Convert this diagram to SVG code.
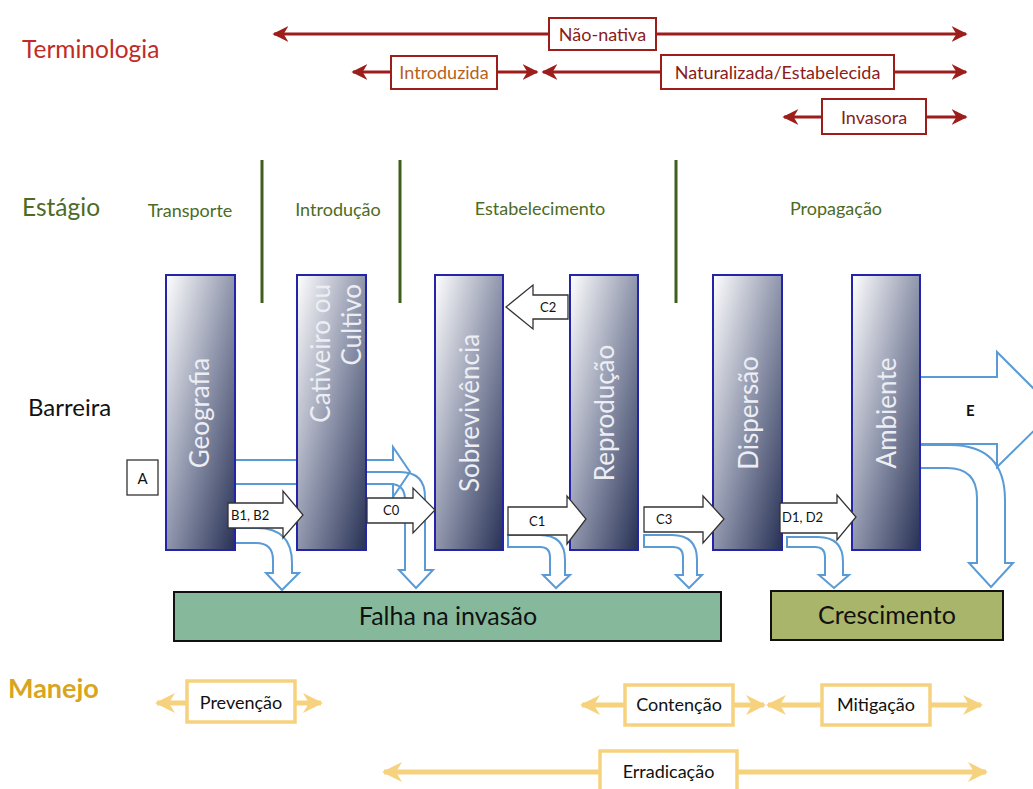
<svg xmlns="http://www.w3.org/2000/svg" width="1033" height="789" viewBox="0 0 1033 789">
<style>
text{font-family:Lato,"Open Sans","Liberation Sans",sans-serif}
.hdr{font-size:24.5px}
.red{fill:#bf2b26}
.grn{fill:#4d6b24}
.rl{stroke:#9c1d1a;stroke-width:3;fill:none}
.rbox{fill:#fff;stroke:#9c1d1a;stroke-width:2}
.rt{font-size:18px;fill:#8a1c1a;text-anchor:middle}
.stg{font-size:18px;fill:#4d6b24;text-anchor:middle}
.vl{stroke:#3f5f1c;stroke-width:3}
.bar{fill:url(#bg);stroke:#2424a8;stroke-width:2}
.bt{font-size:26px;fill:#eceef4;text-anchor:middle}
.blk{fill:#fff;stroke:#333;stroke-width:1.3}
.bl{font-size:13px;fill:#111}
.bfill{fill:#fff;stroke:none}
.bline{fill:none;stroke:#5b9bd5;stroke-width:2}
.gl{stroke:#f6d27e;stroke-width:5;fill:none}
.gbox{fill:#fff;stroke:#f6d27e;stroke-width:3.5}
.gt{font-size:18px;fill:#111;text-anchor:middle}
</style>
<defs>
<linearGradient id="bg" x1="0" y1="0" x2="1" y2="1">
<stop offset="0" stop-color="#ffffff"/>
<stop offset="0.5" stop-color="#9096ac"/>
<stop offset="1" stop-color="#273155"/>
</linearGradient>
<marker id="ra" viewBox="0 0 10 10" refX="9" refY="5" markerWidth="16" markerHeight="16" markerUnits="userSpaceOnUse" orient="auto-start-reverse">
<path d="M0,0 L10,5 L0,10 L3,5 z" fill="#9c1d1a"/>
</marker>
<marker id="ga" viewBox="0 0 10 10" refX="9" refY="5" markerWidth="20" markerHeight="22" markerUnits="userSpaceOnUse" orient="auto-start-reverse">
<path d="M0,0 L10,5 L0,10 L3,5 z" fill="#f6d27e"/>
</marker>
<path id="bGeo" d="M235,460 L393,460 L393,447 L410,472 L393,497 L393,484 L235,484 Z"/>
<path id="bGeoD" d="M300,472 L400,472 Q425,472 425,497 L425,570 L433,570 L416,588 L399,570 L405,570 L405,500 Q405,484 390,484 L300,484 Z"/>
<path id="bB" d="M230,528 L257,528 Q292,528 292,563 L292,573 L299,573 L282,590 L266,573 L273,573 L273,560 Q273,543 256,543 L230,543 Z"/>
<path id="bC1" d="M508,535 L540,535 Q565,535 565,560 L565,575 L570,575 L556,588 L543,575 L550,575 L550,557 Q550,547 540,547 L508,547 Z"/>
<path id="bC3" d="M644,535 L672,535 Q697,535 697,560 L697,575 L702,575 L689,588 L676,575 L683,575 L683,557 Q683,547 673,547 L644,547 Z"/>
<path id="bD" d="M787,537 L818,537 Q843,537 843,562 L843,575 L849,575 L834,588 L819,575 L825,575 L825,557 Q825,547 815,547 L787,547 Z"/>
<path id="bE" d="M920,377 L997,377 L997,352 L1055,410 L997,467 L997,444 L920,444 Z"/>
<path id="bED" d="M920,445 L950,445 Q1005,445 1005,500 L1005,563 L1013,563 L991,587 L969,563 L977,563 L977,498 Q977,468 947,468 L920,468 Z"/>
</defs>
<rect width="1033" height="789" fill="#fff"/>

<g id="terminologia">
<text x="22" y="58" class="hdr red">Terminologia</text>
</g>
<g id="nao-nativa">
<line x1="274" y1="34" x2="966" y2="34" class="rl" marker-start="url(#ra)" marker-end="url(#ra)"/>
<rect x="549" y="18" width="107" height="32" class="rbox"/>
<text x="602.5" y="40.5" class="rt">Não-nativa</text>
</g>
<g id="introduzida">
<line x1="353" y1="72" x2="537" y2="72" class="rl" marker-start="url(#ra)" marker-end="url(#ra)"/>
<rect x="391" y="56" width="106" height="33" class="rbox"/>
<text x="444" y="78.5" class="rt" style="fill:#b8601e">Introduzida</text>
</g>
<g id="naturalizada">
<line x1="543" y1="72" x2="966" y2="72" class="rl" marker-start="url(#ra)" marker-end="url(#ra)"/>
<rect x="661" y="55" width="233" height="34" class="rbox"/>
<text x="777.5" y="78.5" class="rt">Naturalizada/Estabelecida</text>
</g>
<g id="invasora">
<line x1="784" y1="117" x2="966" y2="117" class="rl" marker-start="url(#ra)" marker-end="url(#ra)"/>
<rect x="822" y="99" width="104" height="35" class="rbox"/>
<text x="874" y="123.5" class="rt">Invasora</text>
</g>

<g id="estagio">
<text x="22" y="216" class="hdr grn">Estágio</text>
<text x="190" y="217" class="stg">Transporte</text>
<text x="338" y="216" class="stg">Introdução</text>
<text x="540" y="215" class="stg">Estabelecimento</text>
<text x="836" y="215" class="stg">Propagação</text>
<line x1="262" y1="160" x2="262" y2="303" class="vl"/>
<line x1="400" y1="160" x2="400" y2="303" class="vl"/>
<line x1="676" y1="160" x2="676" y2="303" class="vl"/>
</g>

<g id="barreira">
<text x="28" y="416" style="font-size:24px;fill:#111">Barreira</text>
</g>
<g id="A">
<rect x="127" y="460" width="31" height="35" fill="#fff" stroke="#333" stroke-width="1.3"/>
<text x="142.5" y="484" class="bl" text-anchor="middle" style="font-size:15px">A</text>
</g>

<g id="connectors-blue">
<use href="#bGeoD" class="bfill"/>
<use href="#bGeo" class="bfill"/>
<use href="#bB" class="bfill"/>
<use href="#bC1" class="bfill"/>
<use href="#bC3" class="bfill"/>
<use href="#bD" class="bfill"/>
<use href="#bE" class="bfill"/>
<use href="#bED" class="bfill"/>
<use href="#bGeoD" class="bline"/>
<use href="#bGeo" class="bline"/>
<use href="#bB" class="bline"/>
<use href="#bC1" class="bline"/>
<use href="#bC3" class="bline"/>
<use href="#bD" class="bline"/>
<use href="#bE" class="bline"/>
<use href="#bED" class="bline"/>
<text x="966" y="416" class="bl" style="font-size:15px;font-weight:bold">E</text>
</g>

<g id="geografia">
<rect x="166" y="275" width="69" height="275" class="bar"/>
<text transform="translate(200,413) rotate(-90)" dy="9" class="bt">Geografia</text>
</g>
<g id="cativeiro">
<rect x="297" y="275" width="69" height="275" class="bar"/>
<text transform="translate(321,284) rotate(-90)" dy="9" class="bt" style="text-anchor:end">Cativeiro ou</text>
<text transform="translate(352,284) rotate(-90)" dy="9" class="bt" style="text-anchor:end">Cultivo</text>
</g>
<g id="sobrevivencia">
<rect x="435" y="275" width="68" height="275" class="bar"/>
<text transform="translate(470,413) rotate(-90)" dy="9" class="bt">Sobrevivência</text>
</g>
<g id="reproducao">
<rect x="570" y="275" width="68" height="275" class="bar"/>
<text transform="translate(605,413) rotate(-90)" dy="9" class="bt">Reprodução</text>
</g>
<g id="dispersao">
<rect x="713" y="275" width="69" height="275" class="bar"/>
<text transform="translate(749,413) rotate(-90)" dy="9" class="bt">Dispersão</text>
</g>
<g id="ambiente">
<rect x="852" y="275" width="68" height="275" class="bar"/>
<text transform="translate(887,413) rotate(-90)" dy="9" class="bt">Ambiente</text>
</g>

<g id="connectors-black">
<path d="M228,503 L283,503 L283,491 L303,515 L283,538 L283,528 L228,528 Z" class="blk"/>
<text x="231" y="520" class="bl">B1, B2</text>
<path d="M367,498 L413,498 L413,488 L435,510 L413,533 L413,523 L367,523 Z" class="blk"/>
<text x="383" y="515" class="bl">C0</text>
<path d="M568,295 L533,295 L533,285 L506,307 L533,329 L533,319 L568,319 Z" class="blk"/>
<text x="540" y="312" class="bl">C2</text>
<path d="M508,507 L567,507 L567,496 L586,519 L567,544 L567,535 L508,535 Z" class="blk"/>
<text x="529" y="526" class="bl">C1</text>
<path d="M644,507 L703,507 L703,496 L724,519 L703,543 L703,532 L644,532 Z" class="blk"/>
<text x="656" y="524" class="bl">C3</text>
<path d="M780,503 L837,503 L837,495 L856,517 L837,540 L837,533 L780,533 Z" class="blk"/>
<text x="782" y="522" class="bl">D1, D2</text>
</g>

<g id="falha">
<rect x="174" y="592" width="547" height="49" fill="#86b99b" stroke="#111" stroke-width="2"/>
<text x="448" y="625" text-anchor="middle" style="font-size:25px;fill:#111">Falha na invasão</text>
</g>
<g id="crescimento">
<rect x="771" y="591" width="232" height="49" fill="#a8b56a" stroke="#111" stroke-width="2"/>
<text x="887" y="624" text-anchor="middle" style="font-size:25px;fill:#111">Crescimento</text>
</g>

<g id="manejo">
<text x="8" y="698" style="font-size:27px;font-weight:bold;fill:#d9a420">Manejo</text>
</g>
<g id="prevencao">
<line x1="157" y1="703" x2="321" y2="703" class="gl" marker-start="url(#ga)" marker-end="url(#ga)"/>
<rect x="187" y="681" width="108" height="41" class="gbox"/>
<text x="241" y="709" class="gt">Prevenção</text>
</g>
<g id="contencao">
<line x1="582" y1="705" x2="764" y2="705" class="gl" marker-start="url(#ga)" marker-end="url(#ga)"/>
<rect x="625" y="685" width="108" height="40" class="gbox"/>
<text x="679" y="711" class="gt">Contenção</text>
</g>
<g id="mitigacao">
<line x1="768" y1="705" x2="981" y2="705" class="gl" marker-start="url(#ga)" marker-end="url(#ga)"/>
<rect x="822" y="685" width="108" height="40" class="gbox"/>
<text x="876" y="711" class="gt">Mitigação</text>
</g>
<g id="erradicacao">
<line x1="384" y1="772" x2="986" y2="772" class="gl" marker-start="url(#ga)" marker-end="url(#ga)"/>
<rect x="600" y="751" width="137" height="41" class="gbox"/>
<text x="668.5" y="778" class="gt">Erradicação</text>
</g>
</svg>
